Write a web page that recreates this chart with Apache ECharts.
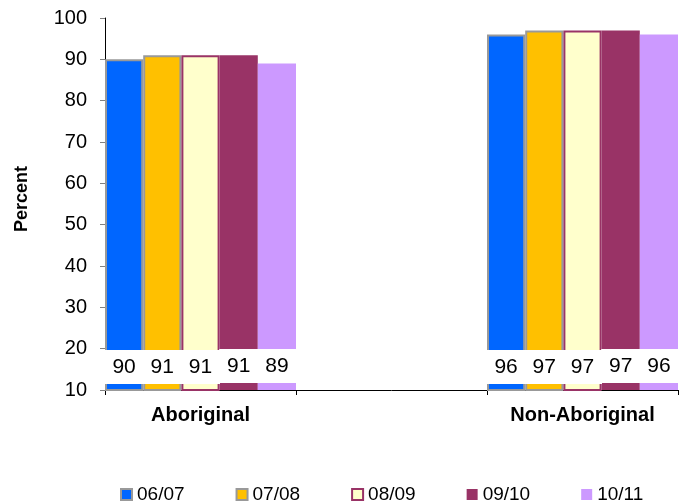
<!DOCTYPE html>
<html>
<head>
<meta charset="utf-8">
<script src="https://cdn.jsdelivr.net/npm/echarts@6/dist/echarts.min.js"></script>
<style>
  html, body { margin: 0; padding: 0; background: #fff; }
  #chart { width: 685px; height: 504px; }
</style>
</head>
<body>
<div id="chart"></div>
<script>
// Groups on the category axis; the middle slot is left empty as a spacer
const categories = ['Aboriginal', '', 'Non-Aboriginal'];
const years = ['06/07', '07/08', '08/09', '09/10', '10/11'];

// Percent per year for each group (Aboriginal, spacer, Non-Aboriginal)
const values0607 = [90, null, 96];
const values0708 = [91, null, 97];
const values0809 = [91, null, 97];
const values0910 = [91, null, 97];
const values1011 = [89, null, 96];

const yTicks = { min: 10, max: 100, interval: 10 };

const seriesValues = [values0607, values0708, values0809, values0910, values1011];
const fills = ['#0066FF', '#FFC000', '#FFFFCC', '#993366', '#CC99FF'];
const borders = ['#999999', '#999999', '#993366', null, null];

const FONT = 'Liberation Sans, Arial, sans-serif';

const chart = echarts.init(document.getElementById('chart'), null, { renderer: 'canvas' });

const series = years.map((name, i) => ({
  name: name,
  type: 'bar',
  data: seriesValues[i],
  barGap: '0%',
  barCategoryGap: '0%',
  itemStyle: {
    color: fills[i],
    borderColor: borders[i] || fills[i],
    borderWidth: borders[i] ? 2 : 0
  },
  // value labels sit in a white strip just above the axis
  label: {
    show: true,
    position: 'insideBottom',
    distance: 7,
    color: '#000',
    fontFamily: FONT,
    fontSize: 21,
    backgroundColor: '#ffffff',
    width: 39,
    height: 34,
    lineHeight: 34,
    align: 'center',
    padding: 0
  },
  emphasis: { disabled: true }
}));

chart.setOption({
  animation: false,
  backgroundColor: '#ffffff',
  textStyle: { fontFamily: FONT },
  grid: { left: 105, right: 7, top: 18, bottom: 114, containLabel: false },
  legend: {
    data: years,
    left: 120,
    top: 485,
    padding: 0,
    itemWidth: 11,
    itemHeight: 11,
    itemGap: 51,
    icon: 'rect',
    textStyle: { fontSize: 19, color: '#000', fontFamily: FONT }
  },
  xAxis: {
    type: 'category',
    data: categories,
    axisLine: { lineStyle: { color: '#000', width: 1 } },
    axisTick: { show: true, length: 5, lineStyle: { color: '#000' } },
    axisLabel: {
      fontSize: 20,
      fontWeight: 'bold',
      color: '#000',
      margin: 15,
      fontFamily: FONT
    },
    splitLine: { show: false }
  },
  yAxis: {
    type: 'value',
    min: yTicks.min,
    max: yTicks.max,
    interval: yTicks.interval,
    name: 'Percent',
    nameLocation: 'middle',
    nameRotate: 90,
    nameGap: 74,
    nameTextStyle: { fontSize: 18, fontWeight: 'bold', color: '#000', fontFamily: FONT, padding: [0, 0, 0, 10] },
    axisLine: { show: true, lineStyle: { color: '#000', width: 1 } },
    axisTick: { show: true, length: 5, lineStyle: { color: '#808080' } },
    axisLabel: { fontSize: 20, color: '#000', margin: 18, fontFamily: FONT },
    splitLine: { show: false }
  },
  series: series
});
</script>
</body>
</html>
